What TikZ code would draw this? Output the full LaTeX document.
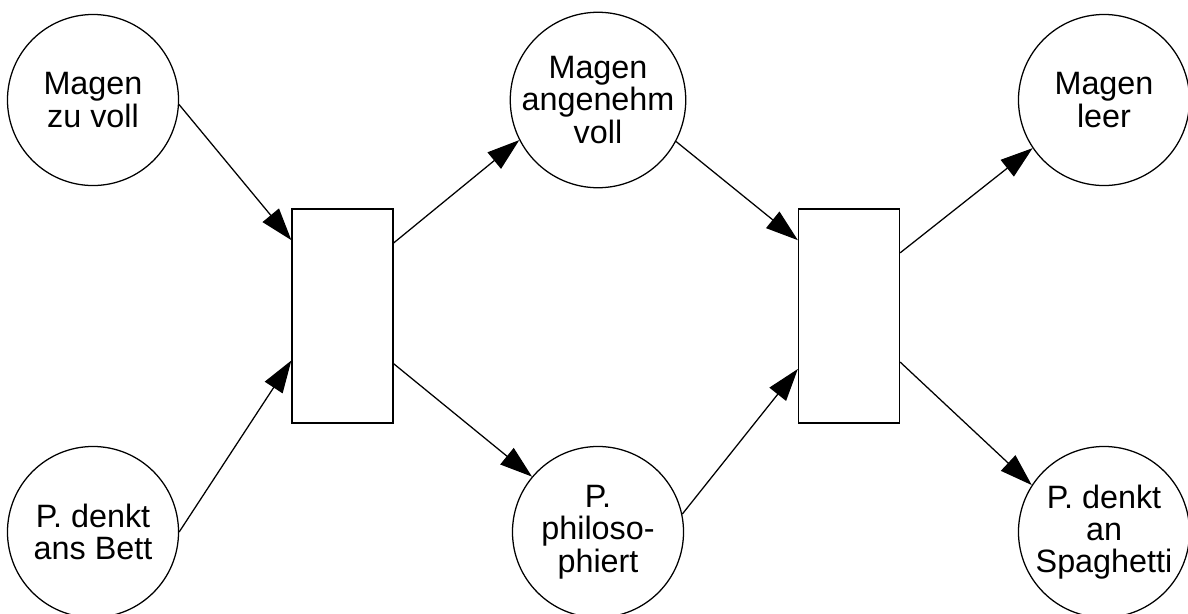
\documentclass[tikz,border=0pt]{standalone}
\usepackage{fontspec}
\setmainfont{Liberation Sans}
\usetikzlibrary{arrows.meta}

\tikzset{
    place/.style={draw, circle, line width=0.9pt, minimum size=4.275cm, inner sep=0pt,
        align=center, font=\fontsize{23}{23}\selectfont},
    transition/.style={draw, rectangle, line width=0.9pt, minimum width=2.525cm,
        minimum height=5.35cm, inner sep=0pt},
    arc/.style={line width=0.9pt, -{Triangle[length=23pt, width=15pt]}}
}

\begin{document}
\begin{tikzpicture}[x=0.025cm, y=-0.025cm]

    \useasboundingbox (0,0) rectangle (1188,613);

    % Places
    \node[place] (zuvoll)   at (93,100)   {Magen\\zu voll};
    \node[place] (bett)     at (93,532)   {P. denkt\\ans Bett};
    \node[place] (angenehm) at (598,100)  {Magen\\angenehm\\voll};
    \node[place] (philo)    at (598,532)  {P.\\philoso-\\phiert};
    \node[place] (leer)     at (1104,100) {Magen\\leer};
    \node[place] (spag)     at (1104,532) {P. denkt\\an\\Spaghetti};

    % Transitions
    \node[transition] (essen)  at (342.5,316) {};
    \node[transition] (denken) at (849,316)   {};

    % Arcs into the first transition
    \draw[arc] (zuvoll.-3) -- (essen.124.7);
    \draw[arc] (bett.east) -- (essen.221);

    % Arcs out of the first transition
    \draw[arc] (essen.55) -- (angenehm.207.4);
    \draw[arc] (essen.-43.5) -- (philo.140);

    % Arcs into the second transition
    \draw[arc] (angenehm.-28) -- (denken.124.6);
    \draw[arc] (philo.12.7) -- (denken.226);

    % Arcs out of the second transition
    \draw[arc] (denken.51) -- (leer.214.8);
    \draw[arc] (denken.-42.6) -- (spag.147);

\end{tikzpicture}
\end{document}
